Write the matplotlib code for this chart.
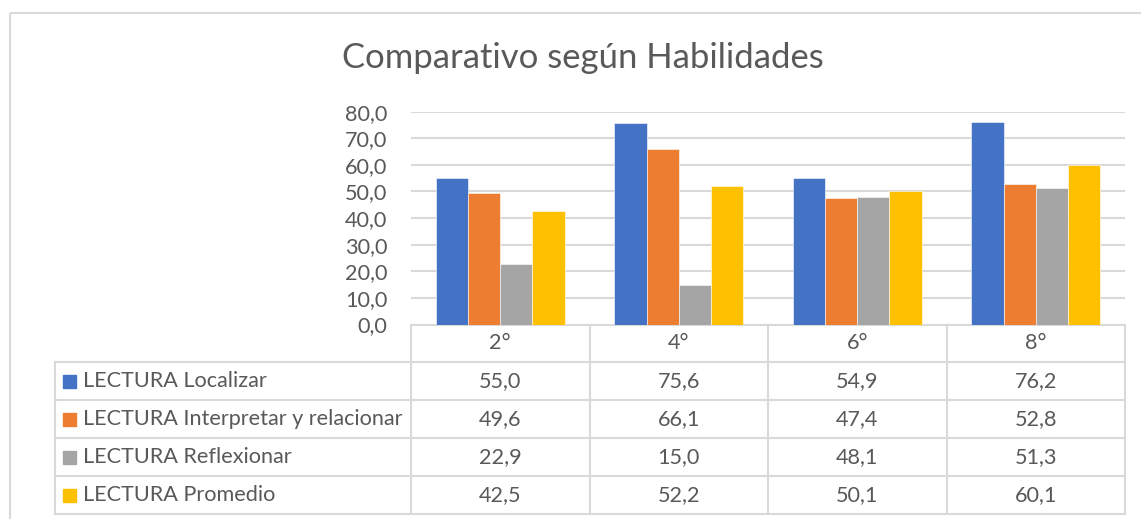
import numpy as np
import matplotlib.pyplot as plt
from matplotlib.patches import Rectangle

# datos
grados = ["2°", "4°", "6°", "8°"]
series = ["LECTURA Localizar", "LECTURA Interpretar y relacionar",
          "LECTURA Reflexionar", "LECTURA Promedio"]
localizar = [55.0, 75.6, 54.9, 76.2]
interpretar = [49.6, 66.1, 47.4, 52.8]
reflexionar = [22.9, 15.0, 48.1, 51.3]
promedio = [42.5, 52.2, 50.1, 60.1]
valores = [localizar, interpretar, reflexionar, promedio]
colores = ["#4472C4", "#ED7D31", "#A5A5A5", "#FFC000"]
yticks = np.arange(0, 81, 10)

W, H = 1141, 519
TXT = "#595959"
LINE = "#d9d9d9"
FS = 15.6
plt.rcParams['font.family'] = ['Lato', 'DejaVu Sans']

fig = plt.figure(figsize=(W / 100, H / 100), dpi=100)

# capa en pixeles (y hacia abajo) para marco, titulo y tabla
ov = fig.add_axes([0, 0, 1, 1])
ov.set_xlim(0, W)
ov.set_ylim(H, 0)
ov.axis("off")

ov.add_patch(Rectangle((10, 13), W + 20, H, fill=False, ec=LINE, lw=1.5))
ov.text(583, 58, "Comparativo según Habilidades", ha="center", va="center",
        fontsize=24.9, color=TXT)

# grafico de barras
x0, x1, ytop, ybot = 411, 1125, 111.7, 324.5
ax = fig.add_axes([x0 / W, 1 - ybot / H, (x1 - x0) / W, (ybot - ytop) / H])
n = len(series)
bw = 0.18
x = np.arange(len(grados))
for i, (vals, c) in enumerate(zip(valores, colores)):
    ax.bar(x + (i - (n - 1) / 2) * bw, vals, bw, color=c, ec="white", lw=0.4, zorder=3)
ax.set_xlim(-0.5, len(grados) - 0.5)
ax.set_ylim(0, 80)
ax.set_yticks(yticks)
ax.set_yticklabels([f"{v:.1f}".replace(".", ",") for v in yticks])
ax.tick_params(axis="y", length=0, pad=17, labelsize=FS, labelcolor=TXT)
ax.set_xticks([])
ax.grid(axis="y", color=LINE, lw=1.5, zorder=0)
for s in ax.spines.values():
    s.set_visible(False)
ax.set_facecolor("none")

# tabla de datos
fig.canvas.draw()
to_px = lambda xd: ax.transData.transform((xd, 0))[0]
bordes = [to_px(b) for b in np.arange(-0.5, len(grados), 1.0)]
centros = [to_px(c) for c in x]
filas = [324.5, 362, 400, 438, 476, 514]
xl = 55

ov.plot([bordes[0], bordes[-1]], [filas[0]] * 2, color=LINE, lw=1.5)
for y in filas[1:]:
    ov.plot([xl, bordes[-1]], [y, y], color=LINE, lw=1.5)
ov.plot([xl, xl], [filas[1], filas[-1]], color=LINE, lw=1.5)
for b in bordes:
    ov.plot([b, b], [filas[0], filas[-1]], color=LINE, lw=1.5)

for c, g in zip(centros, grados):
    ov.text(c, (filas[0] + filas[1]) / 2, g, ha="center", va="center",
            fontsize=FS, color=TXT)
for r, (nombre, vals, col) in enumerate(zip(series, valores, colores)):
    ym = (filas[r + 1] + filas[r + 2]) / 2
    ov.add_patch(Rectangle((63, ym - 6.5), 13, 13, color=col))
    ov.text(83, ym, nombre, ha="left", va="center", fontsize=FS, color=TXT)
    for c, v in zip(centros, vals):
        ov.text(c, ym, f"{v:.1f}".replace(".", ","), ha="center", va="center",
                fontsize=FS, color=TXT)

fig.savefig("out.png", dpi=100)
